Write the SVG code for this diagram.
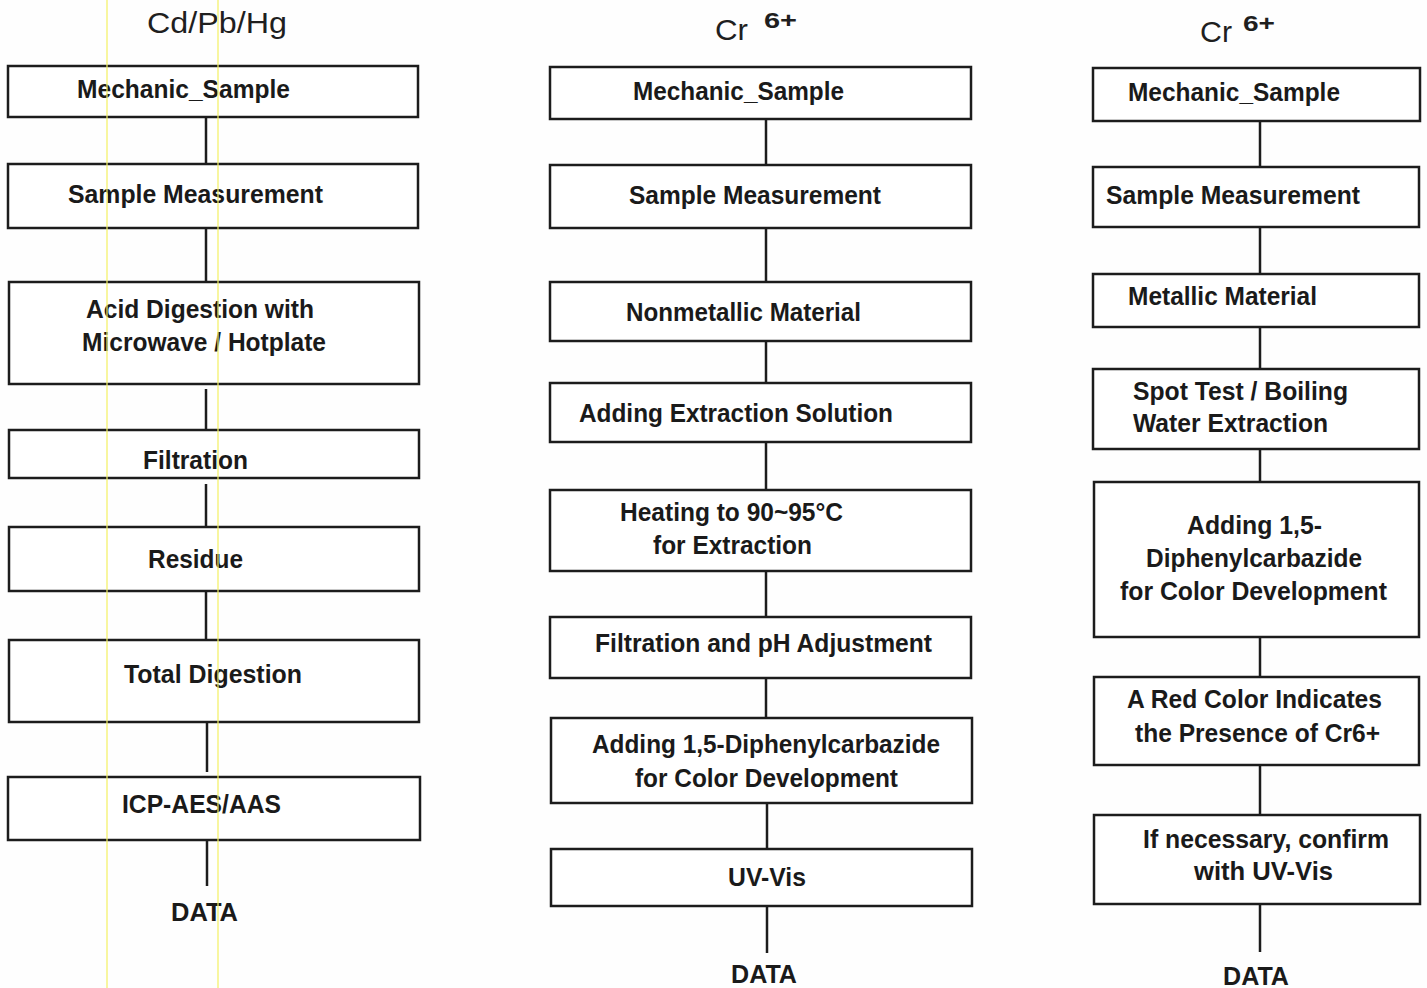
<svg xmlns="http://www.w3.org/2000/svg" width="1427" height="988" viewBox="0 0 1427 988">
<style>
.box{fill:#fff;stroke:#1c1c1c;stroke-width:2.5}
.t{font-family:"Liberation Sans",Arial,sans-serif;font-weight:bold;font-size:25px;fill:#1a1a1a}
.h{font-family:"Liberation Sans",Arial,sans-serif;font-size:30px;fill:#1f1f1f}
.s{font-family:"Liberation Sans",Arial,sans-serif;font-weight:bold;font-size:22px;fill:#1f1f1f}
.c{stroke:#1c1c1c;stroke-width:2.5;fill:none}
.y{stroke:#f4f060;stroke-width:1.2}
</style>
<rect x="0" y="0" width="1427" height="988" fill="#fefefe"/>

<g id="titles">
<text class="h" x="147" y="33" textLength="140" lengthAdjust="spacingAndGlyphs">Cd/Pb/Hg</text>
<text class="h" x="715" y="40" textLength="33" lengthAdjust="spacingAndGlyphs">Cr</text>
<text class="s" x="764" y="28" textLength="33" lengthAdjust="spacingAndGlyphs">6+</text>
<text class="h" x="1200" y="42" textLength="32" lengthAdjust="spacingAndGlyphs">Cr</text>
<text class="s" x="1243" y="31" textLength="32" lengthAdjust="spacingAndGlyphs">6+</text>
</g>

<g id="connectors">
<line class="c" x1="206" y1="117" x2="206" y2="164"/>
<line class="c" x1="206" y1="228" x2="206" y2="282"/>
<line class="c" x1="206" y1="389" x2="206" y2="430"/>
<line class="c" x1="206" y1="484" x2="206" y2="527"/>
<line class="c" x1="206" y1="591" x2="206" y2="640"/>
<line class="c" x1="207" y1="722" x2="207" y2="772"/>
<line class="c" x1="207" y1="837" x2="207" y2="886"/>

<line class="c" x1="766" y1="119" x2="766" y2="165"/>
<line class="c" x1="766" y1="228" x2="766" y2="282"/>
<line class="c" x1="766" y1="341" x2="766" y2="383"/>
<line class="c" x1="766" y1="442" x2="766" y2="490"/>
<line class="c" x1="766" y1="571" x2="766" y2="617"/>
<line class="c" x1="766" y1="678" x2="766" y2="722"/>
<line class="c" x1="767" y1="803" x2="767" y2="849"/>
<line class="c" x1="767" y1="906" x2="767" y2="953"/>

<line class="c" x1="1260" y1="121" x2="1260" y2="167"/>
<line class="c" x1="1260" y1="227" x2="1260" y2="274"/>
<line class="c" x1="1260" y1="327" x2="1260" y2="369"/>
<line class="c" x1="1260" y1="449" x2="1260" y2="486"/>
<line class="c" x1="1260" y1="637" x2="1260" y2="680"/>
<line class="c" x1="1260" y1="765" x2="1260" y2="815"/>
<line class="c" x1="1260" y1="905" x2="1260" y2="952"/>
</g>

<g id="c1-mechanic"><rect class="box" x="8" y="66" width="410" height="51"/>
<text class="t" x="77" y="98" textLength="213" lengthAdjust="spacingAndGlyphs">Mechanic_Sample</text></g>
<g id="c1-measure"><rect class="box" x="8" y="164" width="410" height="64"/>
<text class="t" x="68" y="203" textLength="255" lengthAdjust="spacingAndGlyphs">Sample Measurement</text></g>
<g id="c1-acid"><rect class="box" x="9" y="282" width="410" height="102"/>
<text class="t" x="86" y="318" textLength="228" lengthAdjust="spacingAndGlyphs">Acid Digestion with</text>
<text class="t" x="82" y="351" textLength="244" lengthAdjust="spacingAndGlyphs">Microwave / Hotplate</text></g>
<g id="c1-filtration"><rect class="box" x="9" y="430" width="410" height="48"/>
<text class="t" x="143" y="469" textLength="105" lengthAdjust="spacingAndGlyphs">Filtration</text></g>
<g id="c1-residue"><rect class="box" x="9" y="527" width="410" height="64"/>
<text class="t" x="148" y="568" textLength="95" lengthAdjust="spacingAndGlyphs">Residue</text></g>
<g id="c1-total"><rect class="box" x="9" y="640" width="410" height="82"/>
<text class="t" x="124" y="683" textLength="178" lengthAdjust="spacingAndGlyphs">Total Digestion</text></g>
<g id="c1-icp"><rect class="box" x="8" y="777" width="412" height="63"/>
<text class="t" x="122" y="813" textLength="159" lengthAdjust="spacingAndGlyphs">ICP-AES/AAS</text></g>
<g id="c1-data"><text class="t" x="171" y="921" textLength="67" lengthAdjust="spacingAndGlyphs">DATA</text></g>

<g id="c2-mechanic"><rect class="box" x="550" y="67" width="421" height="52"/>
<text class="t" x="633" y="100" textLength="211" lengthAdjust="spacingAndGlyphs">Mechanic_Sample</text></g>
<g id="c2-measure"><rect class="box" x="550" y="165" width="421" height="63"/>
<text class="t" x="629" y="204" textLength="252" lengthAdjust="spacingAndGlyphs">Sample Measurement</text></g>
<g id="c2-nonmetal"><rect class="box" x="550" y="282" width="421" height="59"/>
<text class="t" x="626" y="321" textLength="235" lengthAdjust="spacingAndGlyphs">Nonmetallic Material</text></g>
<g id="c2-extract"><rect class="box" x="550" y="383" width="421" height="59"/>
<text class="t" x="579" y="422" textLength="314" lengthAdjust="spacingAndGlyphs">Adding Extraction Solution</text></g>
<g id="c2-heating"><rect class="box" x="550" y="490" width="421" height="81"/>
<text class="t" x="620" y="521" textLength="223" lengthAdjust="spacingAndGlyphs">Heating to 90~95°C</text>
<text class="t" x="653" y="554" textLength="159" lengthAdjust="spacingAndGlyphs">for Extraction</text></g>
<g id="c2-filtph"><rect class="box" x="550" y="617" width="421" height="61"/>
<text class="t" x="595" y="652" textLength="337" lengthAdjust="spacingAndGlyphs">Filtration and pH Adjustment</text></g>
<g id="c2-dpc"><rect class="box" x="551" y="718" width="421" height="85"/>
<text class="t" x="592" y="753" textLength="348" lengthAdjust="spacingAndGlyphs">Adding 1,5-Diphenylcarbazide</text>
<text class="t" x="635" y="787" textLength="263" lengthAdjust="spacingAndGlyphs">for Color Development</text></g>
<g id="c2-uvvis"><rect class="box" x="551" y="849" width="421" height="57"/>
<text class="t" x="728" y="886" textLength="78" lengthAdjust="spacingAndGlyphs">UV-Vis</text></g>
<g id="c2-data"><text class="t" x="731" y="983" textLength="66" lengthAdjust="spacingAndGlyphs">DATA</text></g>

<g id="c3-mechanic"><rect class="box" x="1093" y="68" width="327" height="53"/>
<text class="t" x="1128" y="101" textLength="212" lengthAdjust="spacingAndGlyphs">Mechanic_Sample</text></g>
<g id="c3-measure"><rect class="box" x="1093" y="167" width="326" height="60"/>
<text class="t" x="1106" y="204" textLength="254" lengthAdjust="spacingAndGlyphs">Sample Measurement</text></g>
<g id="c3-metal"><rect class="box" x="1093" y="274" width="326" height="53"/>
<text class="t" x="1128" y="305" textLength="189" lengthAdjust="spacingAndGlyphs">Metallic Material</text></g>
<g id="c3-spot"><rect class="box" x="1093" y="369" width="326" height="80"/>
<text class="t" x="1133" y="400" textLength="215" lengthAdjust="spacingAndGlyphs">Spot Test / Boiling</text>
<text class="t" x="1133" y="432" textLength="195" lengthAdjust="spacingAndGlyphs">Water Extraction</text></g>
<g id="c3-dpc"><rect class="box" x="1094" y="482" width="325" height="155"/>
<text class="t" x="1187" y="534" textLength="135" lengthAdjust="spacingAndGlyphs">Adding 1,5-</text>
<text class="t" x="1146" y="567" textLength="216" lengthAdjust="spacingAndGlyphs">Diphenylcarbazide</text>
<text class="t" x="1120" y="600" textLength="267" lengthAdjust="spacingAndGlyphs">for Color Development</text></g>
<g id="c3-red"><rect class="box" x="1094" y="677" width="325" height="88"/>
<text class="t" x="1127" y="708" textLength="255" lengthAdjust="spacingAndGlyphs">A Red Color Indicates</text>
<text class="t" x="1135" y="742" textLength="245" lengthAdjust="spacingAndGlyphs">the Presence of Cr6+</text></g>
<g id="c3-confirm"><rect class="box" x="1094" y="815" width="326" height="89"/>
<text class="t" x="1143" y="848" textLength="246" lengthAdjust="spacingAndGlyphs">If necessary, confirm</text>
<text class="t" x="1194" y="880" textLength="139" lengthAdjust="spacingAndGlyphs">with UV-Vis</text></g>
<g id="c3-data"><text class="t" x="1223" y="985" textLength="66" lengthAdjust="spacingAndGlyphs">DATA</text></g>

<line class="y" x1="107" y1="0" x2="107" y2="988"/>
<line class="y" x1="218" y1="0" x2="218" y2="988"/>
</svg>
